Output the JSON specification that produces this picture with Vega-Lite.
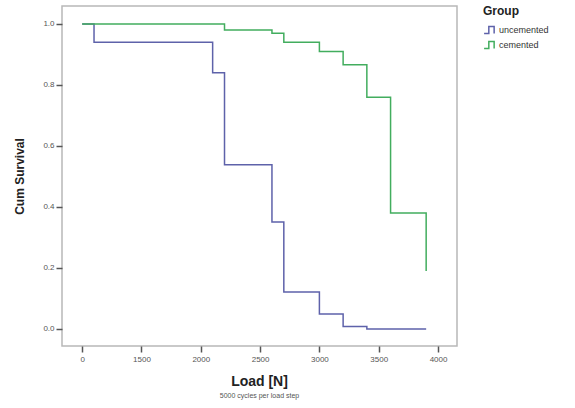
{
  "$schema": "https://vega.github.io/schema/vega-lite/v6.json",
  "autosize": "none",
  "width": 395,
  "height": 340,
  "padding": {"left": 62, "top": 6, "right": 118, "bottom": 62},
  "background": "white",
  "config": {
    "font": "Liberation Sans",
    "view": {"stroke": "#b8b8b8", "strokeWidth": 1.5},
    "axis": {"grid": false, "domain": false, "tickColor": "#555555", "tickWidth": 1.5, "tickSize": 6, "labelColor": "#555555", "labelFontSize": 8, "titleFontSize": 12, "titleFontWeight": "bold", "titleColor": "#222222"}
  },
  "title": {
    "text": "Load [N]",
    "subtitle": "5000 cycles per load step",
    "orient": "bottom",
    "anchor": "middle",
    "fontSize": 14,
    "fontWeight": "bold",
    "color": "#222222",
    "subtitleFontSize": 7,
    "subtitleColor": "#555555",
    "subtitlePadding": 3,
    "offset": 12
  },
  "data": {
    "values": [
      {"group": "uncemented", "load": 1000, "surv": 1.0},
      {"group": "uncemented", "load": 1100, "surv": 0.94},
      {"group": "uncemented", "load": 2100, "surv": 0.84},
      {"group": "uncemented", "load": 2200, "surv": 0.538},
      {"group": "uncemented", "load": 2600, "surv": 0.351},
      {"group": "uncemented", "load": 2700, "surv": 0.121},
      {"group": "uncemented", "load": 3000, "surv": 0.049},
      {"group": "uncemented", "load": 3200, "surv": 0.008},
      {"group": "uncemented", "load": 3400, "surv": 0.0},
      {"group": "uncemented", "load": 3900, "surv": 0.0},
      {"group": "cemented", "load": 1000, "surv": 1.0},
      {"group": "cemented", "load": 2200, "surv": 0.98},
      {"group": "cemented", "load": 2600, "surv": 0.97},
      {"group": "cemented", "load": 2700, "surv": 0.94},
      {"group": "cemented", "load": 3000, "surv": 0.91},
      {"group": "cemented", "load": 3200, "surv": 0.866},
      {"group": "cemented", "load": 3400, "surv": 0.76},
      {"group": "cemented", "load": 3600, "surv": 0.38},
      {"group": "cemented", "load": 3900, "surv": 0.19}
    ]
  },
  "mark": {"type": "line", "interpolate": "step-after", "strokeWidth": 1.5},
  "encoding": {
    "x": {
      "field": "load", "type": "quantitative",
      "scale": {"domain": [830, 4160], "nice": false, "zero": false},
      "axis": {"title": null, "values": [1000, 1500, 2000, 2500, 3000, 3500, 4000], "labelExpr": "datum.value == 1000 ? '0' : format(datum.value, 'd')", "labelPadding": 3}
    },
    "y": {
      "field": "surv", "type": "quantitative",
      "scale": {"domain": [-0.056, 1.059], "nice": false, "zero": false},
      "axis": {"title": "Cum Survival", "values": [0, 0.2, 0.4, 0.6, 0.8, 1.0], "format": ".1f", "labelPadding": 2, "titlePadding": 16}
    },
    "color": {
      "field": "group", "type": "nominal",
      "sort": ["uncemented", "cemented"],
      "scale": {"domain": ["uncemented", "cemented"], "range": ["#5e62aa", "#42ad5e"]},
      "legend": {
        "title": "Group",
        "orient": "right",
        "offset": 26,
        "padding": 0,
        "titleFontSize": 12,
        "titleFontWeight": "bold",
        "titleColor": "#222222",
        "labelFontSize": 9,
        "labelColor": "#333333",
        "labelOffset": 2,
        "rowPadding": 1,
        "symbolType": "M -1 0.6 L -0.2 0.6 L -0.2 -0.6 L 0.7 -0.6 L 0.7 0.6",
        "symbolSize": 140,
        "symbolStrokeWidth": 1.5
      }
    },
    "order": {"field": "load", "type": "quantitative"}
  }
}
